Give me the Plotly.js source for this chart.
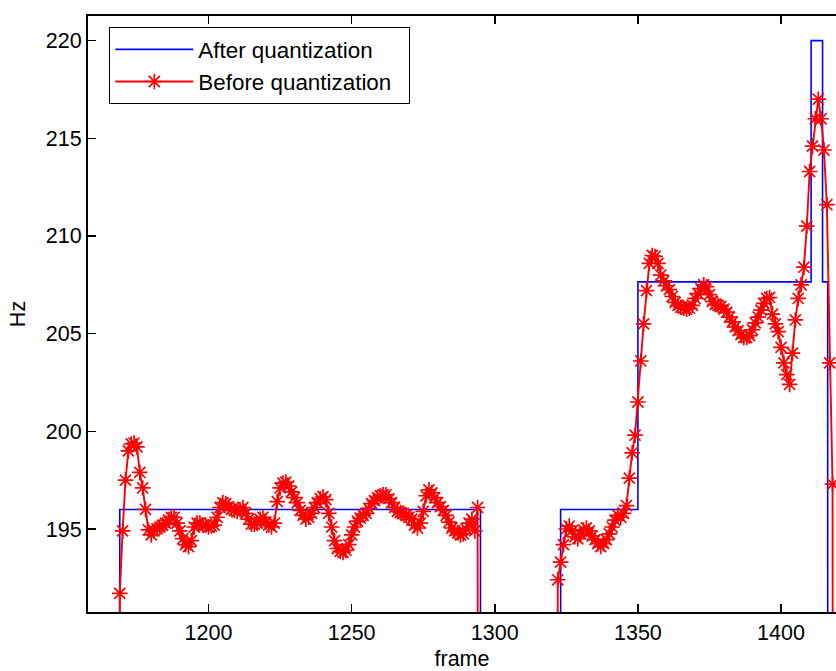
<!DOCTYPE html>
<html><head><meta charset="utf-8">
<script src="https://cdn.plot.ly/plotly-3.0.1.min.js"></script>
<style>html,body{margin:0;padding:0;background:#fff;}</style>
</head><body><div id="chart" style="width:836px;height:671px;"></div>
<script>
// Pitch before quantization (Hz), one value per frame; 0 = unvoiced
const seg1StartFrame = 1168;
const seg1Hz = [
  0, 191.7, 194.9, 197.5, 199.0, 199.35, 199.4, 199.2, 197.9, 197.1,
  196.0, 194.95, 194.7, 194.9, 195.0, 195.1, 195.2, 195.3, 195.45, 195.6,
  195.6, 195.3, 194.9, 194.5, 194.2, 194.1, 194.4, 195.1, 195.3, 195.3,
  195.2, 195.2, 195.1, 195.15, 195.2, 195.6, 196.1, 196.35, 196.3, 196.15,
  196.0, 195.95, 195.9, 196.0, 196.1, 195.8, 195.5, 195.25, 195.25, 195.3,
  195.5, 195.6, 195.35, 195.2, 195.1, 195.3, 196.4, 197.1, 197.35, 197.4,
  197.2, 196.9, 196.6, 196.35, 195.95, 195.7, 195.5, 195.6, 195.8, 196.1,
  196.35, 196.55, 196.65, 196.5, 195.8, 195.1, 194.4, 194.0, 193.85, 193.8,
  193.9, 194.2, 194.7, 195.1, 195.4, 195.55, 195.7, 195.8, 196.05, 196.3,
  196.45, 196.6, 196.7, 196.75, 196.75, 196.55, 196.35, 196.1, 195.9, 195.85,
  195.8, 195.7, 195.6, 195.5, 195.2, 195.05, 195.3, 195.9, 196.7, 197.0,
  196.85, 196.6, 196.35, 196.15, 195.95, 195.7, 195.35, 195.05, 194.9, 194.8,
  194.7, 194.75, 195.0, 195.3, 195.5, 194.9, 196.1, 0
];
const seg2StartFrame = 1321;
const seg2Hz = [
  0, 192.4, 193.3, 194.2, 195.0, 195.15, 194.9, 194.6, 194.5, 194.75,
  194.95, 195.05, 194.9, 194.65, 194.45, 194.25, 194.1, 194.25, 194.45, 194.75,
  195.1, 195.45, 195.7, 195.6, 195.8, 196.2, 197.6, 198.9, 199.8, 201.5,
  203.6, 205.5, 207.2, 208.6, 209.0, 208.95, 208.6, 208.0, 207.7, 207.45,
  207.25, 206.9, 206.6, 206.45, 206.35, 206.3, 206.25, 206.3, 206.45, 206.8,
  207.05, 207.3, 207.5, 207.4, 207.0, 206.65, 206.5, 206.45, 206.4, 206.25,
  206.1, 205.85, 205.6, 205.35, 205.15, 204.95, 204.8, 204.8, 204.9, 205.2,
  205.55, 205.85, 206.2, 206.55, 206.8, 206.85, 206.0, 205.5, 205.1, 204.3,
  203.5, 202.9, 202.4, 204.0, 205.7, 206.8, 207.5, 208.4, 210.5, 213.3,
  214.6, 216.0, 217.0, 216.0, 214.4, 211.6, 203.5, 197.3, 0
];
// Pitch after quantization: note level held from each change frame
const stepFrames = [1168, 1169, 1295, 1323, 1350, 1410.5, 1414.5, 1416.3];
const stepHz     = [0, 196.00, 0, 196.00, 207.65, 220.00, 207.65, 0];

const xTicks = [1200, 1250, 1300, 1350, 1400];
const yTicks = [195, 200, 205, 210, 215, 220];

const beforeX = [], beforeY = [];
seg1Hz.forEach((v, i) => { beforeX.push(seg1StartFrame + i); beforeY.push(v); });
seg2Hz.forEach((v, i) => { beforeX.push(seg2StartFrame + i); beforeY.push(v); });

const FONT = 'Liberation Sans, Arial, Helvetica, sans-serif';

const traces = [
  {
    x: stepFrames, y: stepHz, type: 'scatter', mode: 'lines',
    name: 'After quantization\u00a0\u00a0',
    line: {color: '#0000FF', width: 1.6, shape: 'hv'}
  },
  {
    x: beforeX, y: beforeY, type: 'scatter', mode: 'lines+markers',
    name: 'Before quantization\u00a0\u00a0',
    line: {color: '#FF0000', width: 1.9},
    marker: {symbol: 'asterisk-open', size: 13, color: '#FF0000',
             line: {color: '#FF0000', width: 1.7}}
  }
];

const layout = {
  width: 836, height: 671,
  margin: {l: 88, r: 0, t: 16, b: 59},
  paper_bgcolor: '#ffffff', plot_bgcolor: '#ffffff',
  font: {family: FONT, size: 21.5, color: '#000'},
  showlegend: true,
  legend: {
    x: 0.0281, y: 0.9815, xanchor: 'left', yanchor: 'top',
    bgcolor: '#ffffff', bordercolor: '#000', borderwidth: 1.3,
    font: {family: FONT, size: 22.4, color: '#000'},
    itemwidth: 78, tracegroupgap: 0
  },
  xaxis: {
    range: [1157.9, 1419.2], tickvals: xTicks, ticktext: xTicks.map(String),
    ticks: 'inside', ticklen: 8, tickwidth: 1.5, tickcolor: '#000',
    showline: true, linecolor: '#000', linewidth: 2, mirror: 'ticks',
    showgrid: false, zeroline: false,
    tickfont: {family: FONT, size: 21.5},
    title: {text: 'frame', font: {family: FONT, size: 21.5}, standoff: 10},
    automargin: false
  },
  yaxis: {
    range: [190.75, 221.26], tickvals: yTicks, ticktext: yTicks.map(String),
    ticks: 'inside', ticklen: 8, tickwidth: 1.5, tickcolor: '#000',
    showline: true, linecolor: '#000', linewidth: 2, mirror: false,
    showgrid: false, zeroline: false,
    tickfont: {family: FONT, size: 21.5},
    title: {text: 'Hz', font: {family: FONT, size: 21.5}, standoff: 14},
    automargin: false
  }
};

Plotly.newPlot('chart', traces, layout, {displayModeBar: false, staticPlot: true});
</script>
</body></html>
